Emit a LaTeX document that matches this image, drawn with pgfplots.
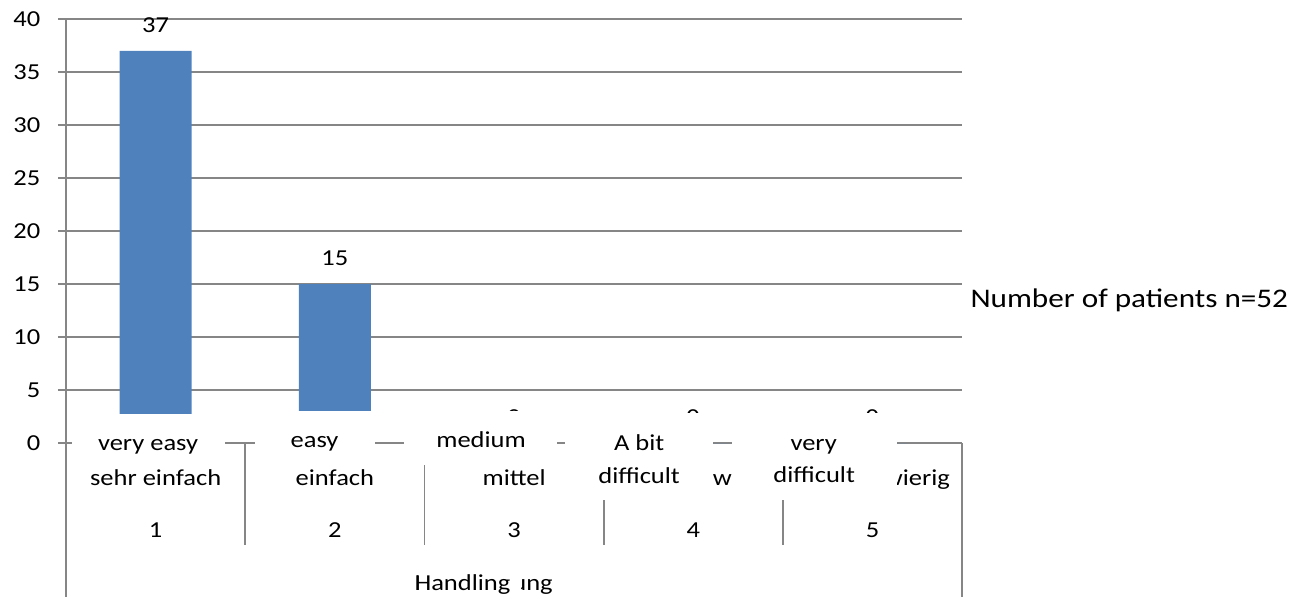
\documentclass[border=0pt]{standalone}
\usepackage{fontspec}
\setmainfont{Carlito}[FakeStretch=1.16]
\usepackage{pgfplots}
\pgfplotsset{compat=1.18}
\definecolor{barblue}{RGB}{79,129,189}
\definecolor{gridgray}{RGB}{134,134,134}
\begin{document}
\begin{tikzpicture}[font=\fontsize{13}{15}\selectfont]
\path[use as bounding box] (0,0) rectangle (26.14cm,11.94cm);
\begin{axis}[
  at={(1.32cm,3.08cm)}, anchor=south west,
  scale only axis, width=17.92cm, height=8.48cm,
  xmin=0.5, xmax=5.5, ymin=0, ymax=40,
  ytick={0,5,...,40}, xtick=\empty,
  /pgf/number format/assume math mode=true,
  ymajorgrids, grid style={gridgray, line width=0.9pt},
  axis line style={draw=none},
  tick style={gridgray, line width=0.9pt},
  tick align=outside, major tick length=0.16cm,
  ytick pos=left,
  yticklabel style={font=\fontsize{13}{15}\selectfont, xshift=-0.23cm},
  ybar, bar width=1.44cm,
  nodes near coords,
  nodes near coords style={anchor=base, yshift=0.376cm, inner sep=0pt, font=\fontsize{13}{15}\selectfont, text=black},
  clip=false,
]
\addplot[fill=barblue, draw=none] coordinates {(1,37) (2,15) (3,0) (4,0) (5,0)};
\end{axis}
\begin{scope}[x=0.02cm, y=-0.02cm, shift={(0,11.94cm)}, every node/.style={inner sep=0pt}]
  \draw[gridgray, line width=0.9pt] (66,19) -- (66,597);
  \draw[gridgray, line width=0.9pt] (962,443) -- (962,597);
  \foreach \xx in {245.2,424.4,603.6,782.8} \draw[gridgray, line width=0.9pt] (\xx,443) -- (\xx,545);
  % underlying category labels
  \node[anchor=base] at (155.6,485) {sehr einfach};
  \node[anchor=base] at (334.8,485) {einfach};
  \node[anchor=base] at (514,485) {mittel};
  \node[anchor=base east] at (779,485) {etwas schwierig};
  \node[anchor=base east] at (950,485) {sehr schwierig};
  \node[anchor=base] at (155.6,537) {1};
  \node[anchor=base] at (334.8,537) {2};
  \node[anchor=base] at (514,537) {3};
  \node[anchor=base] at (693.2,537) {4};
  \node[anchor=base] at (872.4,537) {5};
  \node[anchor=base east] at (553,590) {Handhabung};
  % white overlay text boxes
  \fill[white] (72,414) rectangle (225,462);
  \fill[white] (255,411) rectangle (375,464);
  \fill[white] (404,411) rectangle (557,465);
  \fill[white] (565,413) rectangle (713,500);
  \fill[white] (732,413) rectangle (897,500);
  \fill[white] (418,552) rectangle (521,597);
  \node[anchor=base] at (148,450) {very easy};
  \node[anchor=base] at (314.5,447) {easy};
  \node[anchor=base] at (481,447) {medium};
  \node[anchor=base] at (639,450) {A bit};
  \node[anchor=base] at (639,483) {difficult};
  \node[anchor=base] at (813.5,450) {very};
  \node[anchor=base] at (814,482) {difficult};
  \node[anchor=base] at (462.5,590) {Handling};
  \node[anchor=base west, font=\fontsize{15.3}{18}\selectfont] at (970,307) {Number of patients n=52};
\end{scope}
\end{tikzpicture}
\end{document}
